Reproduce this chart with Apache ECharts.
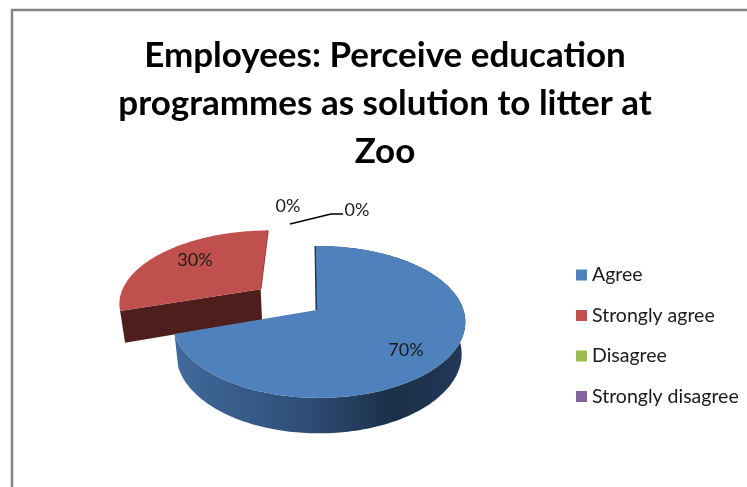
<!DOCTYPE html>
<html><head><meta charset="utf-8">
<style>html,body{margin:0;padding:0;background:#fff}#c{width:747px;height:487px}</style>
<script src="https://cdn.jsdelivr.net/npm/echarts@6/dist/echarts.min.js"></script>
</head><body><div id="c"></div>
<script>
const categories = ['Agree','Strongly agree','Disagree','Strongly disagree'];
const values = [70,30,0,0];
const colors = ['#4F81BD','#C0504D','#9BBB59','#8064A2'];
const titleLines = ['Employees: Perceive education','programmes as solution to litter at','Zoo'];

(function(){
const total = values.reduce((a,b)=>a+b,0);
// perspective projection of a unit disc
const P = {cx:317, cy:310, rx:144.5, ry:74, k:0.158, dy:31.5, sx:0.975, sy:1.045, explode:0.5};
const sliceDx=[2,-0.5,0,0];
function project(u,v,dx){const d=1+P.k*v;return [P.cx+dx+P.rx*u/d, P.cy-P.ry*v/d];}
function lower(u,v,dx){const p=project(u,v,dx);return [P.cx+dx+(p[0]-P.cx-dx)*P.sx, P.cy+P.dy+(p[1]-P.cy)*P.sy];}
const explodeBy=[0,P.explode,0,0];
const labelPos=[[406,350],[195,260],[288,206],[357,210]];

function makeRender(idx){
  return function(params,api){
    const val=api.value(0);
    let before=0;for(let i=0;i<idx;i++)before+=values[i];
    const a0=before/total*2*Math.PI, a1=(before+val)/total*2*Math.PI, mid=(a0+a1)/2;
    const e=explodeBy[idx], ox=e*Math.sin(mid), oy=e*Math.cos(mid), dx=sliceDx[idx];
    const rim=(fn)=>{const pts=[];const n=Math.max(2,Math.ceil((a1-a0)/0.02));
      for(let i=0;i<=n;i++){const a=a0+(a1-a0)*i/n;pts.push(fn(ox+Math.sin(a),oy+Math.cos(a),dx));}return pts;};
    const children=[];
    const pctText=Math.round(val/total*100)+'%';
    if(val>0){
      const T=rim(project),B=rim(lower),at=project(ox,oy,dx),ab=lower(ox,oy,dx),c=colors[idx];
      if(idx===0){
        at[0]-=2;
        T[0][0]-=3;
        children.push({type:'polygon',shape:{points:T.concat(B.slice().reverse())},
          style:{fill:{type:'linear',x:175,y:0,x2:467,y2:0,global:true,colorStops:[
            {offset:0,color:'#41699A'},{offset:0.45,color:'#2E4E78'},{offset:0.75,color:'#1B2F47'},{offset:1,color:'#24395A'}]}}});
        children.push({type:'polyline',shape:{points:[[T[0][0]-0.5,T[0][1]],[at[0]-0.5,at[1]]]},style:{stroke:'#1F3552',lineWidth:2,fill:null}});
      } else {
        const last=T[T.length-1], first=T[0];
        children.push({type:'polygon',shape:{points:[at,first,B[0],ab]},style:{fill:'#4D1E1B'}});
        children.push({type:'polyline',shape:{points:[[last[0]-0.5,last[1]],[at[0]-0.5,at[1]]]},style:{stroke:'#8E3735',lineWidth:2.5,fill:null}});
      }
      children.push({type:'polygon',shape:{points:[at].concat(T)},style:{fill:c}});
    } else if(idx===3){
      children.push({type:'polyline',shape:{points:[[290,224],[331,214],[343,214]]},style:{stroke:'#000',lineWidth:1.5,fill:null}});
    }
    children.push({type:'text',z2:20,style:{x:labelPos[idx][0],y:labelPos[idx][1],text:pctText,align:'center',verticalAlign:'middle',
      font:'18px Lato',fill:'#1a1a1a'}});
    return {type:'group',children};
  };
}

const chart=echarts.init(document.getElementById('c'),null,{renderer:'canvas'});
chart.setOption({
  animation:false,
  backgroundColor:'#fff',
  title:{text:titleLines.join('\n'),left:380,top:27,textAlign:'center',
    textStyle:{fontFamily:'Lato',fontWeight:'bold',fontSize:35,lineHeight:48,color:'#000'}},
  legend:{orient:'vertical',left:571,top:260,itemWidth:11,itemHeight:11,itemGap:20.5,icon:'rect',
    data:categories,selectedMode:false,
    textStyle:{fontFamily:'Lato',fontSize:19.5,color:'#1a1a1a'}},
  graphic:[{type:'rect',silent:true,z:-1,shape:{x:12,y:10,width:800,height:600},style:{fill:'#fff',stroke:'#868686',lineWidth:2.5}}],
  series:categories.map((name,i)=>({
    type:'custom',name,coordinateSystem:'none',silent:true,z:i===0?4:(i===1?3:5),
    itemStyle:{color:colors[i]},
    renderItem:makeRender(i),
    data:[[values[i]]]
  }))
});
})();
</script></body></html>
